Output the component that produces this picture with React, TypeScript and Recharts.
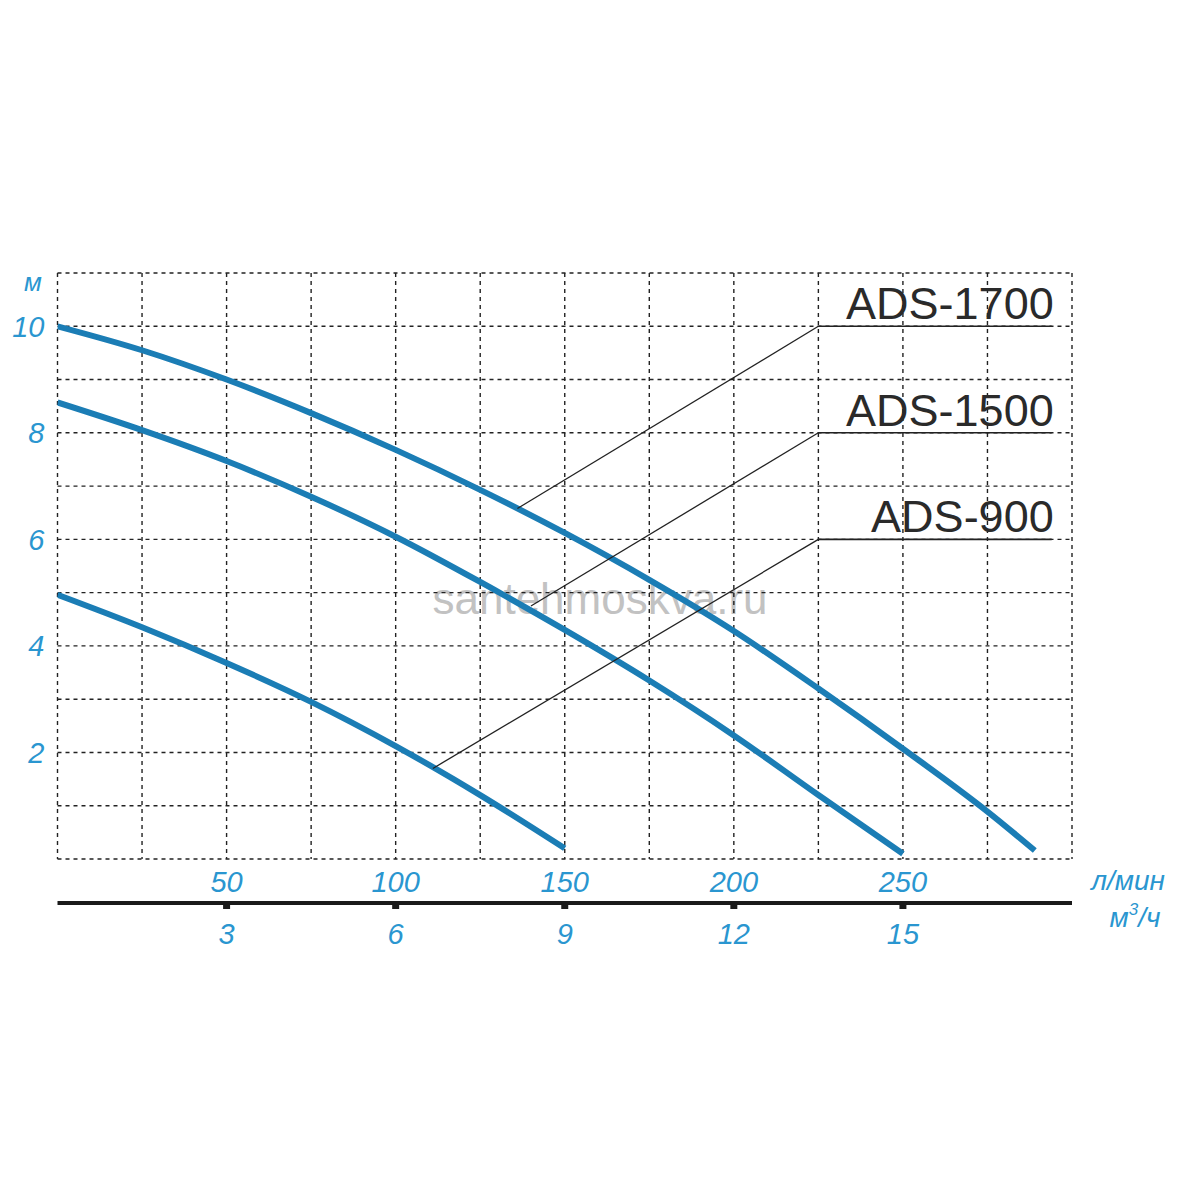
import React from 'react';
import { LineChart, Line, XAxis, YAxis, CartesianGrid, ReferenceLine } from 'recharts';

// flow in l/min, head in m
const ads1700Flow = [0, 25, 50, 75, 100, 125, 150, 175, 200, 225, 250, 275, 289];
const ads1700Head = [10.0, 9.55, 9.0, 8.37, 7.68, 6.93, 6.12, 5.24, 4.28, 3.2, 2.07, 0.89, 0.16];

const ads1500Flow = [0, 25, 50, 75, 100, 125, 150, 175, 200, 225, 250];
const ads1500Head = [8.57, 8.05, 7.47, 6.8, 6.05, 5.2, 4.3, 3.35, 2.32, 1.2, 0.1];

const ads900Flow = [0, 25, 50, 75, 100, 125, 150];
const ads900Head = [4.96, 4.35, 3.68, 2.95, 2.12, 1.2, 0.2];

const models = ['ADS-1700', 'ADS-1500', 'ADS-900'];
// where each leader touches its curve, and the grid line its label sits on
const leaderFlow = [136, 140, 111];
const leaderHead = [6.58, 4.75, 1.7];
const labelHead = [10, 8, 6];
const labelFlowStart = 225;
const labelFlowEnd = 294;

const flowTicks = [0, 25, 50, 75, 100, 125, 150, 175, 200, 225, 250, 275, 300];
const flowLabels = [50, 100, 150, 200, 250];
const cubicLabels = [3, 6, 9, 12, 15];
const headTicks = [0, 1, 2, 3, 4, 5, 6, 7, 8, 9, 10, 11];
const headLabels = [2, 4, 6, 8, 10];

const toSeries = (flow: number[], head: number[]) => flow.map((f, i) => ({ flow: f, head: head[i] }));

const series = [
  toSeries(ads1700Flow, ads1700Head),
  toSeries(ads1500Flow, ads1500Head),
  toSeries(ads900Flow, ads900Head),
];

const axisData = flowTicks.map((f) => ({ flow: f }));

const curveColor = '#1b7db5';
const labelBlue = '#2a96d0';
const tickFont = { fill: labelBlue, fontSize: 29, fontStyle: 'italic', fontFamily: 'Liberation Sans, Arial, sans-serif' };

const App: React.FC = () => {
  return (
    <div style={{ position: 'absolute', left: 0, top: 0, width: 1200, height: 1200, background: '#fff' }}>
      <div
        style={{
          position: 'absolute',
          left: 0,
          width: 1200,
          top: 574,
          textAlign: 'center',
          fontFamily: 'Liberation Sans, Arial, sans-serif',
          fontSize: 44,
          color: '#c2c2c2',
        }}
      >
        santehmoskva.ru
      </div>
      <LineChart
        width={1200}
        height={1200}
        data={axisData}
        margin={{ top: 273, right: 128, bottom: 241, left: 0 }}
        style={{ position: 'absolute', left: 0, top: 0 }}
      >
        <CartesianGrid xAxisId="lmin" stroke="#222" strokeWidth={1.4} strokeDasharray="4 4" />
        <XAxis
          xAxisId="lmin"
          dataKey="flow"
          type="number"
          domain={[0, 300]}
          ticks={flowTicks}
          allowDataOverflow
          axisLine={false}
          tickLine={false}
          tickSize={0}
          height={44}
          interval={0}
          tick={tickFont}
          tickFormatter={(v: number) => (flowLabels.includes(v) ? String(v) : '')}
          dy={10}
          label={(props: any) => {
            const vb = props.viewBox;
            return (
              <text x={vb.x + vb.width + 56} y={vb.y + 31} textAnchor="middle" {...(tickFont as any)} fontSize={28}>
                л/мин
              </text>
            );
          }}
        />
        <XAxis
          xAxisId="m3h"
          dataKey="flow"
          type="number"
          domain={[0, 300]}
          ticks={flowLabels}
          allowDataOverflow
          axisLine={{ stroke: '#1a1a1a', strokeWidth: 4 }}
          tickLine={{ stroke: '#1a1a1a', strokeWidth: 7 }}
          tickSize={6}
          tickMargin={14}
          interval={0}
          height={56}
          tick={tickFont}
          tickFormatter={(v: number) => String(cubicLabels[flowLabels.indexOf(v)] ?? '')}
          label={(props: any) => {
            const vb = props.viewBox;
            return (
              <text x={vb.x + vb.width + 63} y={vb.y + 24} textAnchor="middle" {...(tickFont as any)} fontSize={28}>
                м<tspan dy={-12} fontSize={17}>3</tspan>
                <tspan dy={12}>/ч</tspan>
              </text>
            );
          }}
        />
        <YAxis
          type="number"
          domain={[0, 11]}
          ticks={headTicks}
          allowDataOverflow
          axisLine={false}
          tickLine={false}
          tickSize={0}
          tickMargin={13}
          interval={0}
          width={57.5}
          tick={tickFont}
          tickFormatter={(v: number) => (headLabels.includes(v) ? String(v) : '')}
          label={(props: any) => {
            const vb = props.viewBox;
            return (
              <text x={vb.x + 33} y={vb.y + 18} textAnchor="middle" {...(tickFont as any)} fontSize={26}>
                м
              </text>
            );
          }}
        />
        {series.map((data, i) => (
          <Line
            key={models[i]}
            xAxisId="lmin"
            data={data}
            dataKey="head"
            type="monotone"
            stroke={curveColor}
            strokeWidth={6}
            dot={false}
            activeDot={false}
            isAnimationActive={false}
          />
        ))}
        {models.map((name, i) => (
          <ReferenceLine
            key={`leader-${name}`}
            xAxisId="lmin"
            segment={[
              { x: leaderFlow[i], y: leaderHead[i] },
              { x: labelFlowStart, y: labelHead[i] },
            ]}
            stroke="#222"
            strokeWidth={1.3}
            ifOverflow="visible"
          />
        ))}
        {models.map((name, i) => (
          <ReferenceLine
            key={`label-${name}`}
            xAxisId="lmin"
            segment={[
              { x: labelFlowStart, y: labelHead[i] },
              { x: labelFlowEnd, y: labelHead[i] },
            ]}
            stroke="#222"
            strokeWidth={1.6}
            ifOverflow="visible"
            label={(props: any) => {
              const vb = props.viewBox;
              return (
                <text
                  x={vb.x + vb.width + 2}
                  y={vb.y - 7}
                  textAnchor="end"
                  fill="#2a2a2a"
                  fontSize={45}
                  fontFamily="Liberation Sans, Arial, sans-serif"
                >
                  {name}
                </text>
              );
            }}
          />
        ))}
      </LineChart>
    </div>
  );
};

export default App;
